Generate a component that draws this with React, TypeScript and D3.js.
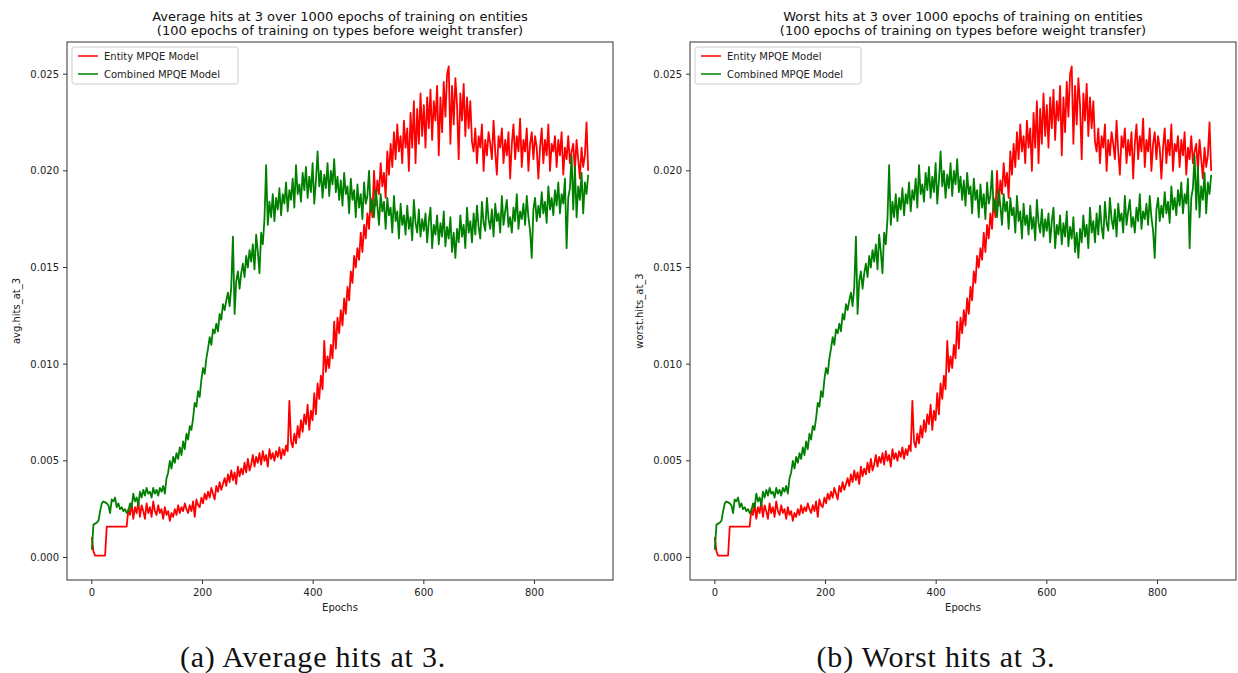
import React from 'react';
import * as d3 from 'd3';

// Values, in units of 1e-4, one value every 3 epochs (epochs 0..897)
const entityHits = [
  10.5, 3, 1, 1, 1, 1, 1, 1, 1, 16,
  16, 16, 16, 16, 16, 16, 16, 16, 16, 16,
  16, 16, 25, 22, 28, 20, 26, 23, 29, 21,
  27, 24, 20, 28, 23, 26, 21, 29, 24, 22,
  27, 23, 25, 20, 26, 22, 24, 19, 23, 21,
  25, 22, 27, 23, 26, 24, 28, 25, 23, 27,
  24, 29, 21, 30, 27, 26, 31, 28, 33, 30,
  34, 31, 36, 33, 30, 37, 34, 39, 35, 38,
  41, 37, 43, 39, 45, 40, 44, 38, 47, 42,
  46, 43, 49, 44, 51, 45, 48, 53, 47, 52,
  49, 54, 48, 55, 50, 53, 47, 56, 51, 54,
  50, 55, 52, 57, 51, 56, 53, 58, 55, 81,
  60, 57, 64, 59, 68, 62, 71, 65, 74, 69,
  79, 66, 76, 71, 85, 74, 90, 82, 94, 87,
  112, 96, 104, 98, 110, 103, 122, 108, 124, 116,
  128, 120, 134, 126, 140, 133, 148, 142, 156, 150,
  160, 154, 168, 158, 172, 165, 178, 170, 186, 176,
  200, 182, 195, 188, 204, 192, 199, 186, 210, 198,
  214, 202, 220, 206, 224, 210, 218, 204, 226, 212,
  222, 200, 230, 212, 236, 204, 232, 214, 240, 218,
  234, 212, 238, 222, 242, 216, 236, 226, 244, 208,
  238, 220, 246, 228, 250, 254, 214, 244, 224, 248,
  234, 206, 240, 226, 245, 218, 238, 222, 236, 215,
  210, 222, 204, 218, 212, 224, 200, 216, 208, 220,
  214, 206, 226, 210, 198, 218, 212, 222, 204, 216,
  208, 220, 196, 214, 224, 206, 218, 210, 227, 202,
  216, 210, 222, 200, 214, 220, 206, 218, 212, 196,
  212, 222, 204, 216, 208, 224, 200, 214, 210, 218,
  202, 216, 208, 220, 198, 212, 206, 218, 204, 210,
  214, 200, 216, 206, 196, 212, 202, 208, 225, 200,
];

const combinedHits = [
  4, 17, 17.5, 18, 19, 24, 28, 29, 28.5, 28,
  27, 23, 30, 29, 31, 26, 28, 25, 26, 24,
  25, 23, 24, 28, 26, 33, 29, 31, 27, 34,
  31, 35, 32, 36, 33, 34, 31, 36, 33, 35,
  32, 36, 34, 37, 33, 41, 44, 50, 46, 52,
  49, 54, 51, 57, 53, 60, 56, 64, 61, 68,
  66, 72, 80, 78, 86, 83, 92, 98, 95, 103,
  108, 114, 110, 118, 116, 121, 117, 126, 123, 131,
  128, 133, 137, 130, 140, 166, 126, 143, 148, 139,
  147, 152, 145, 156, 150, 159, 153, 162, 149, 167,
  158, 147, 168, 162, 175, 203, 172, 184, 176, 188,
  174, 186, 180, 191, 177, 188, 183, 194, 179, 190,
  185, 196, 181, 203, 188, 193, 184, 199, 190, 202,
  186, 197, 189, 204, 183, 195, 210, 192, 200, 186,
  198, 191, 204, 187, 200, 193, 206, 189, 197, 185,
  195, 182, 199, 188, 192, 178, 196, 185, 190, 176,
  193, 181, 188, 175, 194, 183, 187, 200, 179, 185,
  176, 190, 182, 172, 188, 179, 184, 170, 186, 177,
  181, 168, 187, 174, 179, 165, 183, 172, 177, 167,
  182, 170, 176, 164, 185, 173, 168, 180, 166, 175,
  169, 178, 163, 174, 181, 160, 172, 167, 177, 162,
  173, 166, 179, 161, 171, 165, 176, 158, 168, 155,
  170, 163, 177, 166, 172, 160, 181, 168, 174, 163,
  178, 167, 182, 171, 165, 184, 173, 169, 186, 175,
  170, 180, 166, 183, 174, 178, 168, 187, 172, 179,
  185, 171, 176, 168, 181, 174, 188, 170, 179, 175,
  183, 172, 187, 176, 169, 155, 180, 186, 174, 182,
  176, 189, 178, 184, 173, 192, 180, 186, 177, 190,
  182, 194, 178, 188, 183, 196, 160, 186, 191, 208,
  180, 202, 176, 192, 185, 199, 178, 194, 188, 198,
];

// The "worst" panel shows the same curves as the "average" panel
const worstEntityHits = entityHits;
const worstCombinedHits = combinedHits;

const EPOCH_STEP = 3;
const UNIT = 1e-4;

const seriesNames = ['Entity MPQE Model', 'Combined MPQE Model'];
const seriesColors = ['#ff0000', '#008000'];
const xTicks = [0, 200, 400, 600, 800];
const yTicks = [0, 0.005, 0.01, 0.015, 0.02, 0.025];
const titlesA = ['Average hits at 3 over 1000 epochs of training on entities', '(100 epochs of training on types before weight transfer)'];
const titlesB = ['Worst hits at 3 over 1000 epochs of training on entities', '(100 epochs of training on types before weight transfer)'];
const yLabels = ['avg.hits_at_3', 'worst.hits_at_3'];
const captions = ['(a) Average hits at 3.', '(b) Worst hits at 3.'];

const FONT = 'DejaVu Sans, sans-serif';

type PanelProps = {
  left: number;
  titles: string[];
  ylabel: string;
  series: number[][];
};

function Panel({ left, titles, ylabel, series }: PanelProps) {
  const top = 42;
  const width = 546;
  const height = 538;
  const n = series[0].length;
  const xMax = (n - 1) * EPOCH_STEP;
  const xPad = xMax * 0.05;
  const all = series.flat().map((v) => v * UNIT);
  const [yMin, yMax] = d3.extent(all) as [number, number];
  const yPad = (yMax - yMin) * 0.05;
  const x = d3.scaleLinear().domain([-xPad, xMax + xPad]).range([left, left + width]);
  const y = d3.scaleLinear().domain([yMin - yPad, yMax + yPad]).range([top + height, top]);
  const line = d3
    .line<number>()
    .x((_, i) => x(i * EPOCH_STEP))
    .y((v) => y(v * UNIT));
  const cx = left + width / 2;
  const fmt = d3.format('.3f');
  return (
    <g>
      <text x={cx} y={21} textAnchor="middle" fontFamily={FONT} fontSize={13} fill="#111">{titles[0]}</text>
      <text x={cx} y={35} textAnchor="middle" fontFamily={FONT} fontSize={13} fill="#111">{titles[1]}</text>
      <defs>
        <clipPath id={`clip-${left}`}>
          <rect x={left} y={top} width={width} height={height} />
        </clipPath>
      </defs>
      <g clipPath={`url(#clip-${left})`}>
        {series.map((s, k) => (
          <path key={k} d={line(s) || ''} fill="none" stroke={seriesColors[k]} strokeWidth={1.8} strokeLinejoin="round" />
        ))}
      </g>
      <rect x={left} y={top} width={width} height={height} fill="none" stroke="#333" strokeWidth={1} />
      {xTicks.map((t) => (
        <g key={t}>
          <line x1={x(t)} x2={x(t)} y1={top + height} y2={top + height + 4} stroke="#333" />
          <text x={x(t)} y={top + height + 16} textAnchor="middle" fontFamily={FONT} fontSize={10} fill="#222">{t}</text>
        </g>
      ))}
      {yTicks.map((t) => (
        <g key={t}>
          <line x1={left - 4} x2={left} y1={y(t)} y2={y(t)} stroke="#333" />
          <text x={left - 8} y={y(t) + 3.5} textAnchor="end" fontFamily={FONT} fontSize={10} fill="#222">{fmt(t)}</text>
        </g>
      ))}
      <text x={cx} y={611} textAnchor="middle" fontFamily={FONT} fontSize={10} fill="#222">Epochs</text>
      <text transform={`translate(${left - 47},${top + height / 2}) rotate(-90)`} textAnchor="middle" fontFamily={FONT} fontSize={10} fill="#222">{ylabel}</text>
      <g>
        <rect x={left + 5} y={top + 5} width={166} height={37} rx={2.5} fill="#fff" fillOpacity={0.8} stroke="#ccc" strokeWidth={1} />
        {seriesNames.map((name, k) => (
          <g key={name}>
            <line x1={left + 11} x2={left + 31} y1={top + 14 + k * 18} y2={top + 14 + k * 18} stroke={seriesColors[k]} strokeWidth={1.5} />
            <text x={left + 37} y={top + 18 + k * 18} fontFamily={FONT} fontSize={10} fill="#222">{name}</text>
          </g>
        ))}
      </g>
    </g>
  );
}

export default function App() {
  return (
    <div style={{ position: 'absolute', left: 0, top: 0 }}>
      <svg width={1238} height={673} viewBox="0 0 1238 673" style={{ display: 'block', background: '#fff' }}>
        <rect x={0} y={0} width={1238} height={673} fill="#fff" />
        <Panel left={67} titles={titlesA} ylabel={yLabels[0]} series={[entityHits, combinedHits]} />
        <Panel left={690} titles={titlesB} ylabel={yLabels[1]} series={[worstEntityHits, worstCombinedHits]} />
        <text x={313} y={667} textAnchor="middle" fontFamily="Liberation Serif, serif" fontSize={30} letterSpacing={0.8} fill="#111">{captions[0]}</text>
        <text x={936} y={667} textAnchor="middle" fontFamily="Liberation Serif, serif" fontSize={30} letterSpacing={0.8} fill="#111">{captions[1]}</text>
      </svg>
    </div>
  );
}
